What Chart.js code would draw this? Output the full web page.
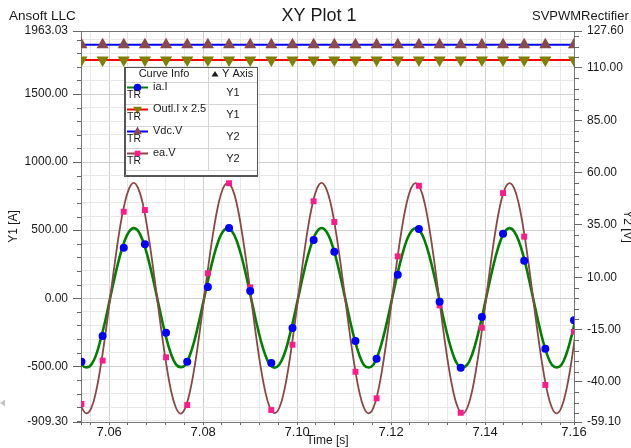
<!DOCTYPE html>
<html>
<head>
<meta charset="utf-8">
<title>XY Plot 1</title>
<script src="https://cdn.jsdelivr.net/npm/chart.js@4.4.1/dist/chart.umd.min.js"></script>
<style>
  html, body { margin: 0; padding: 0; background: #fff; }
  #wrap { width: 631px; height: 448px; }
</style>
</head>
<body>
<div id="wrap"><canvas id="graph" width="631" height="448"></canvas></div>
<script>
// sampled curves: one value every sampleStep seconds from sampleStart
const sampleStart = 7.0532;
const sampleStep = 0.001;

const iaValues = [
  -416, -490, -508, -488, -418, -300, -160, 2, 158, 300,
  414, 488, 515, 492, 418, 304, 161, 3, -156, -300,
  -414, -486, -506, -490, -415, -303, -158, 0, 160, 302,
  417, 491, 514, 489, 415, 301, 158, -2, -160, -303,
  -416, -489, -510, -487, -417, -301, -157, 1, 159, 301,
  415, 490, 516, 491, 417, 303, 160, 1, -158, -301,
  -415, -490, -509, -489, -416, -302, -159, 0, 158, 300,
  416, 489, 514, 490, 416, 302, 159, 1, -159, -302,
  -417, -491, -507, -488, -415, -300, -158, 2, 160, 303,
  417, 490, 515, 489, 416, 302, 158, 0, -159, -302,
  -416, -489, -508, -490, -417, -301, -159
];

const eaValues = [
  -44.5, -52.3, -55.0, -52.4, -44.6, -32.2, -17.1, 0.1, 17.0, 32.4,
  44.4, 52.2, 55.1, 52.3, 44.6, 32.2, 16.9, -0.1, -17.1, -32.3,
  -44.5, -52.3, -55.1, -52.2, -44.4, -32.3, -17.0, 0.2, 17.1, 32.3,
  44.5, 52.4, 55.0, 52.3, 44.5, 32.1, 17.0, 0.0, -17.1, -32.4,
  -44.5, -52.3, -54.9, -52.3, -44.6, -32.3, -16.9, 0.1, 17.0, 32.3,
  44.4, 52.3, 55.1, 52.2, 44.5, 32.3, 17.0, 0.0, -17.0, -32.2,
  -44.5, -52.3, -55.0, -52.4, -44.5, -32.3, -17.1, 0.0, 17.1, 32.3,
  44.5, 52.3, 55.0, 52.3, 44.6, 32.3, 17.0, -0.1, -17.0, -32.3,
  -44.4, -52.3, -55.1, -52.3, -44.5, -32.2, -17.0, 0.1, 17.0, 32.3,
  44.5, 52.3, 55.0, 52.3, 44.5, 32.4, 17.1, 0.0, -17.0, -32.3,
  -44.5, -52.3, -55.0, -52.3, -44.5, -32.3, -17.0
];

// flat curves
const flatTime = [7.054, 7.1589];
const outlValues = [1750, 1750];
const vdcValues = [121, 121];

// symbols drawn along the curves
const markerTime = [7.0541, 7.0586, 7.0631, 7.0676, 7.0721, 7.0766, 7.0810, 7.0855, 7.0900, 7.0945,
  7.0990, 7.1035, 7.1079, 7.1124, 7.1169, 7.1214, 7.1259, 7.1303, 7.1348, 7.1393,
  7.1438, 7.1483, 7.1528, 7.1589];
const iaMarks = [-466, -277, 371, 396, -253, -466, 82, 516, 53, -476, -219, 428, 342, -314,
  -444, 173, 509, -26, -510, -138, 474, 276, -371, -162];
const eaMarks = [-50.5, -29.8, 41.3, 42.1, -28.2, -51.0, 11.9, 54.9, 5.2, -53.4, -22.2, 46.3,
  36.4, -35.1, -47.8, 20.0, 53.7, -3.4, -54.7, -14.1, 50.2, 29.4, -41.4, -16.0];
const outlMarks = markerTime.map(() => 1750);
const vdcMarks = markerTime.map(() => 121);

// axes
const timeTicks = [7.054, 7.056, 7.060, 7.064, 7.068, 7.072, 7.076, 7.080, 7.084, 7.088, 7.092,
  7.096, 7.100, 7.104, 7.108, 7.112, 7.116, 7.120, 7.124, 7.128, 7.132, 7.136, 7.140, 7.144,
  7.148, 7.152, 7.156, 7.1589];
const timeLabels = [7.06, 7.08, 7.10, 7.12, 7.14, 7.1589];
const y1Ticks = [1963.03, 1900, 1800, 1700, 1600, 1500, 1400, 1300, 1200, 1100, 1000, 900, 800,
  700, 600, 500, 400, 300, 200, 100, 0, -100, -200, -300, -400, -500, -600, -700, -800, -900, -909.30];
const y1Labels = [1963.03, 1500, 1000, 500, 0, -500, -909.30];
const y2Ticks = [127.6, 125, 120, 115, 110, 105, 100, 95, 90, 85, 80, 75, 70, 65, 60, 55, 50, 45,
  40, 35, 30, 25, 20, 15, 10, 5, 0, -5, -10, -15, -20, -25, -30, -35, -40, -45, -50, -55, -59.1];
const y2Labels = [127.6, 110, 85, 60, 35, 10, -15, -40, -59.1];

const FONT = "'Liberation Sans', Arial, sans-serif";
const has = (list, v) => list.some(l => Math.abs(l - v) < 1e-6);
const curve = vals => vals.map((v, i) => ({x: sampleStart + i * sampleStep, y: v}));
const pairs = (xs, ys) => xs.map((x, i) => ({x: x, y: ys[i]}));

const series = [
  {name: 'ia.I', line: '#008000', width: 2.6, sym: 'circle', symColor: '#0000ff', axis: 'Y1'},
  {name: 'Outl.I x 2.5', line: '#ff0000', width: 2, sym: 'down', symColor: '#808000', axis: 'Y1'},
  {name: 'Vdc.V', line: '#0000ff', width: 2, sym: 'up', symColor: '#8b4a4a', axis: 'Y2'},
  {name: 'ea.V', line: '#8c4646', width: 1.8, sym: 'square', symColor: '#ff1a8c', axis: 'Y2'}
];

function symbolDataset(label, data, axis, style, color, radius, rotation) {
  return {
    label: label, data: data, yAxisID: axis, showLine: false, order: 0,
    pointStyle: style, pointRotation: rotation || 0, pointRadius: radius,
    pointBackgroundColor: color, pointBorderColor: color, pointBorderWidth: 0
  };
}
function lineDataset(s, data, axis, order) {
  return {
    label: s.name, data: data, yAxisID: axis, order: order,
    borderColor: s.line, borderWidth: s.width, pointRadius: 0, tension: 0.4, fill: false
  };
}

function drawSymbol(ctx, kind, x, y, color) {
  ctx.fillStyle = color;
  ctx.beginPath();
  if (kind === 'circle') ctx.arc(x, y, 3.8, 0, Math.PI * 2);
  else if (kind === 'square') ctx.rect(x - 2.8, y - 2.8, 5.6, 5.6);
  else if (kind === 'up') { ctx.moveTo(x, y - 5); ctx.lineTo(x + 4.3, y + 2.8); ctx.lineTo(x - 4.3, y + 2.8); }
  else { ctx.moveTo(x, y + 5); ctx.lineTo(x + 4.3, y - 2.8); ctx.lineTo(x - 4.3, y - 2.8); }
  ctx.closePath();
  ctx.fill();
}

const decorations = {
  id: 'decorations',
  afterDraw(chart) {
    const ctx = chart.ctx;
    const y1 = chart.scales.y1, y2 = chart.scales.y2;
    ctx.save();

    // short minor ticks
    ctx.strokeStyle = '#666';
    ctx.lineWidth = 1;
    y1.ticks.forEach(t => {
      if (has(y1Labels, t.value)) return;
      const py = Math.round(y1.getPixelForValue(t.value)) + 0.5;
      ctx.beginPath(); ctx.moveTo(y1.right - 4, py); ctx.lineTo(y1.right, py); ctx.stroke();
    });
    y2.ticks.forEach(t => {
      if (has(y2Labels, t.value)) return;
      const py = Math.round(y2.getPixelForValue(t.value)) + 0.5;
      ctx.beginPath(); ctx.moveTo(y2.left, py); ctx.lineTo(y2.left + 5, py); ctx.stroke();
    });

    // header texts
    ctx.fillStyle = '#1a1a1a';
    ctx.textBaseline = 'middle';
    ctx.font = '13.5px ' + FONT;
    ctx.textAlign = 'left';
    ctx.fillText('Ansoft LLC', 9, 16);
    ctx.font = '13px ' + FONT;
    ctx.fillText('SVPWMRectifier', 532, 16);
    ctx.font = '18px ' + FONT;
    ctx.textAlign = 'center';
    ctx.fillText('XY Plot 1', 319, 16);

    // small grey arrow on the left
    ctx.fillStyle = '#c4c4c4';
    ctx.beginPath(); ctx.moveTo(0, 403); ctx.lineTo(5, 399.5); ctx.lineTo(5, 406.5); ctx.closePath(); ctx.fill();

    // curve info table
    const L = 124, T = 67, R = 258, B = 177, colX = 208;
    const rowTops = [82, 104, 126, 148];
    ctx.fillStyle = '#fff';
    ctx.fillRect(L, T, R - L, B - T);
    ctx.strokeStyle = '#d4d4d4';
    [82, 104, 126, 148, 170].forEach(y => {
      ctx.beginPath(); ctx.moveTo(L, y + 0.5); ctx.lineTo(R, y + 0.5); ctx.stroke();
    });
    ctx.beginPath(); ctx.moveTo(colX + 0.5, T); ctx.lineTo(colX + 0.5, 170); ctx.stroke();
    ctx.strokeStyle = '#555';
    ctx.strokeRect(L + 0.5, T + 0.5, R - L - 1, B - T - 1);
    ctx.beginPath(); ctx.moveTo(L + 1.5, T + 1); ctx.lineTo(L + 1.5, B - 1.5); ctx.lineTo(R - 1, B - 1.5); ctx.stroke();

    ctx.fillStyle = '#1a1a1a';
    ctx.font = '11px ' + FONT;
    ctx.textAlign = 'center';
    ctx.fillText('Curve Info', 164, 74);
    ctx.textAlign = 'left';
    ctx.fillText('Y Axis', 222, 74);
    ctx.beginPath(); ctx.moveTo(215, 71); ctx.lineTo(218.5, 76.5); ctx.lineTo(211.5, 76.5); ctx.closePath(); ctx.fill();

    series.forEach((s, i) => {
      const r = rowTops[i];
      ctx.strokeStyle = s.line;
      ctx.lineWidth = 2;
      ctx.beginPath(); ctx.moveTo(127, r + 5.5); ctx.lineTo(148, r + 5.5); ctx.stroke();
      drawSymbol(ctx, s.sym, 137.5, r + 5.5, s.symColor);
      ctx.fillStyle = '#1a1a1a';
      ctx.font = '10.5px ' + FONT;
      ctx.textAlign = 'left';
      ctx.fillText('TR', 127, r + 13.5);
      ctx.font = '11px ' + FONT;
      ctx.fillText(s.name, 153, r + 4.5);
      ctx.textAlign = 'center';
      ctx.fillText(s.axis, 233, r + 11);
    });
    ctx.restore();
  }
};

const tickFont = {family: FONT, size: 12};

new Chart(document.getElementById('graph'), {
  type: 'line',
  data: {
    datasets: [
      symbolDataset('ia.I symbols', pairs(markerTime, iaMarks), 'y1', 'circle', '#0000ff', 4),
      symbolDataset('Outl.I symbols', pairs(markerTime, outlMarks), 'y1', 'triangle', '#808000', 7, 180),
      symbolDataset('Vdc.V symbols', pairs(markerTime, vdcMarks), 'y2', 'triangle', '#8b4a4a', 7),
      symbolDataset('ea.V symbols', pairs(markerTime, eaMarks), 'y2', 'rect', '#ff1a8c', 4.2),
      lineDataset(series[3], curve(eaValues), 'y2', 1),
      lineDataset(series[2], pairs(flatTime, vdcValues), 'y2', 2),
      lineDataset(series[1], pairs(flatTime, outlValues), 'y1', 3),
      lineDataset(series[0], curve(iaValues), 'y1', 4)
    ]
  },
  options: {
    responsive: false,
    animation: false,
    devicePixelRatio: 1,
    layout: {padding: {top: 31, left: 0, right: 0, bottom: 0}, autoPadding: false},
    plugins: {legend: {display: false}, title: {display: false}, tooltip: {enabled: false}},
    scales: {
      x: {
        type: 'linear', min: 7.054, max: 7.1589,
        afterBuildTicks: s => { s.ticks = timeTicks.map(v => ({value: v})); },
        afterFit: s => { s.height = 26; },
        ticks: {
          autoSkip: false, maxRotation: 0, padding: 0, color: '#1a1a1a',
          font: {family: FONT, size: 13},
          callback: v => has(timeLabels, v) ? v.toFixed(2) : ''
        },
        grid: {
          tickLength: 3,
          color: c => {
            const v = c.tick.value;
            if (v <= 7.0541 || v >= 7.1588) return 'rgba(0,0,0,0)';
            return Math.abs(v * 50 - Math.round(v * 50)) < 1e-6 ? '#cfcfcf' : '#e8e8e8';
          },
          tickColor: '#666'
        },
        border: {color: '#777'},
        title: {display: true, text: 'Time [s]', color: '#1a1a1a', font: {family: FONT, size: 12}, padding: {top: 0, bottom: 0}}
      },
      y1: {
        type: 'linear', position: 'left', min: -909.30, max: 1963.03,
        afterBuildTicks: s => { s.ticks = y1Ticks.map(v => ({value: v})); },
        afterFit: s => { s.width = 81; },
        ticks: {
          autoSkip: false, padding: 5, color: '#1a1a1a', font: tickFont,
          callback: v => has(y1Labels, v) ? v.toFixed(2) : ''
        },
        grid: {
          tickLength: 8,
          color: c => {
            const v = c.tick.value;
            if (v === 1963.03) return '#777';
            if (v === -909.30) return 'rgba(0,0,0,0)';
            return v % 500 === 0 ? '#cfcfcf' : '#e8e8e8';
          },
          tickColor: c => has(y1Labels, c.tick.value) ? '#666' : 'rgba(0,0,0,0)'
        },
        border: {color: '#777'},
        title: {display: true, text: 'Y1 [A]', color: '#1a1a1a', font: {family: FONT, size: 12}, padding: {top: 6, bottom: 0}}
      },
      y2: {
        type: 'linear', position: 'right', min: -59.1, max: 127.6,
        afterBuildTicks: s => { s.ticks = y2Ticks.map(v => ({value: v})); },
        afterFit: s => { s.width = 57; },
        ticks: {
          autoSkip: false, padding: 5, color: '#1a1a1a', font: tickFont,
          callback: v => has(y2Labels, v) ? v.toFixed(2) : ''
        },
        grid: {
          drawOnChartArea: false, tickLength: 8,
          tickColor: c => has(y2Labels, c.tick.value) ? '#666' : 'rgba(0,0,0,0)'
        },
        border: {color: '#777'},
        title: {display: true, text: 'Y2 [V]', color: '#1a1a1a', font: {family: FONT, size: 12}, padding: {top: -3.5, bottom: 0}}
      }
    }
  },
  plugins: [decorations]
});
</script>
</body>
</html>
